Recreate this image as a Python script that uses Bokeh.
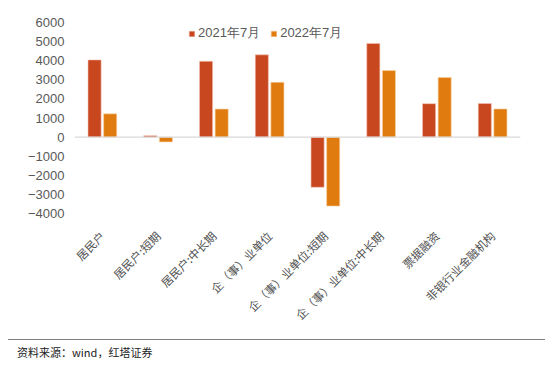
import math
from bokeh.plotting import figure
from bokeh.models import (ColumnDataSource, Range1d, Span, Legend, LegendItem, FactorRange, Div)
from bokeh.layouts import column
from bokeh.transform import dodge
from bokeh.embed import file_html
from bokeh.resources import INLINE

categories = ["居民户", "居民户:短期", "居民户:中长期", "企（事）业单位",
              "企（事）业单位:短期", "企（事）业单位:中长期", "票据融资", "非银行业金融机构"]
jul2021 = [4042, 75, 3967, 4307, -2627, 4901, 1750, 1760]
jul2022 = [1217, -250, 1467, 2869, -3612, 3483, 3122, 1474]
series_names = ["2021年7月", "2022年7月"]
yticks = [-4000, -3000, -2000, -1000, 0, 1000, 2000, 3000, 4000, 5000, 6000]

src = ColumnDataSource(dict(cat=categories, a=jul2021, b=jul2022))

p = figure(frame_width=446, frame_height=191, x_range=FactorRange(*categories),
           y_range=Range1d(-4000, 6000),
           output_backend="svg", toolbar_location=None,
           min_border_left=74, min_border_right=34, min_border_top=22, min_border_bottom=126)
p.outline_line_color = None
p.xgrid.grid_line_color = None
p.ygrid.grid_line_color = None

r1 = p.vbar(x=dodge("cat", -0.14, range=p.x_range), top="a", width=0.235, source=src,
            fill_color="#C9471F", line_color="#F2C4B4", line_width=0.6)
r2 = p.vbar(x=dodge("cat", 0.14, range=p.x_range), top="b", width=0.235, source=src,
            fill_color="#E07C0F", line_color="#F7D2A8", line_width=0.6)

p.add_layout(Span(location=0, dimension="width", line_color="#D9D9D9", line_width=1.2))

p.yaxis.ticker = yticks
p.yaxis.axis_line_color = None
p.yaxis.major_tick_line_color = None
p.yaxis.minor_tick_line_color = None
p.yaxis.major_label_text_font = "Liberation Sans"
p.yaxis.major_label_text_font_size = "13px"
p.yaxis.major_label_text_color = "#595959"
p.yaxis.major_label_standoff = 4

p.xaxis.axis_line_color = None
p.xaxis.major_tick_line_color = None
p.xaxis.major_label_orientation = math.pi / 4
p.xaxis.major_label_text_font = "Noto Sans CJK SC"
p.xaxis.major_label_text_font_size = "11.5px"
p.xaxis.major_label_text_color = "#505050"
p.xaxis.major_label_standoff = 14

legend = Legend(items=[LegendItem(label=series_names[0], renderers=[r1]),
                       LegendItem(label=series_names[1], renderers=[r2])],
                orientation="horizontal", location=(114, 171),
                label_text_font="Liberation Sans", label_text_font_size="13px",
                label_text_color="#595959", glyph_width=7, glyph_height=7,
                label_standoff=3, spacing=10, padding=2, margin=0,
                background_fill_alpha=0, border_line_color=None)
p.add_layout(legend)

note = Div(text="资料来源：wind，红塔证券", width=537, height=24, margin=(0, 0, 0, 8),
           styles={"border-top": "1.5px solid #7f7f7f", "font-family": "Noto Sans CJK SC",
                   "font-size": "11px", "color": "#222222", "padding-left": "9px",
                   "padding-top": "6px", "line-height": "13px"})

layout = column(p, note, spacing=0)
open("out.html", "w").write(file_html(layout, INLINE))
